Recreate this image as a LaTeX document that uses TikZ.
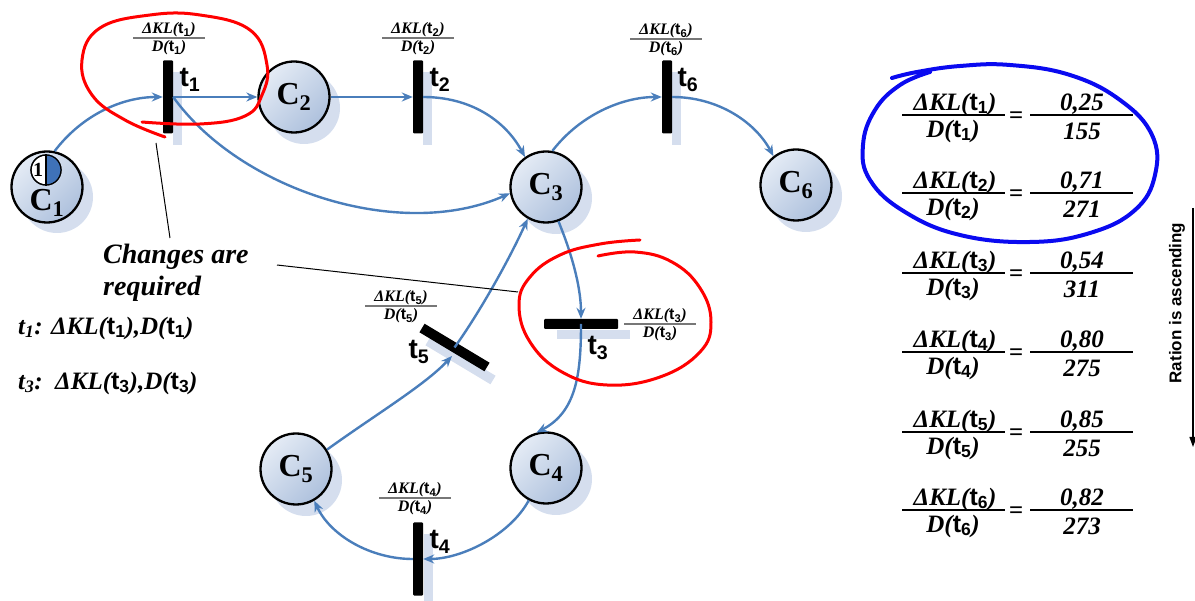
\documentclass[tikz,border=0pt]{standalone}
\usepackage{fontspec}
\setmainfont{Liberation Serif}
\newfontfamily\arial{Liberation Sans}
\usetikzlibrary{arrows.meta}
\definecolor{arrblue}{HTML}{4A7EBB}
\definecolor{shad}{HTML}{D5DEEE}
\definecolor{fillA}{HTML}{E4EBF5}
\definecolor{fillB}{HTML}{AEC1DD}
\definecolor{tokblue}{HTML}{3F72B8}
\definecolor{redpen}{HTML}{FF0000}
\definecolor{bluepen}{HTML}{0A0AF0}
\definecolor{fracgray}{HTML}{777777}
\newcommand\tS[1]{{\arial\bfseries\upshape t\textsubscript{#1}}}
\newcommand\Cl[1]{\fontsize{32}{32}\selectfont\bfseries C\textsubscript{#1}}
\tikzset{
  place/.style={circle, draw=black, line width=2.3pt, minimum size=71pt, inner sep=0pt,
    top color=fillA, bottom color=fillB, shading angle=45},
  placeshadow/.style={circle, fill=shad, minimum size=72pt, inner sep=0pt},
  bar/.style={rectangle, fill=black, minimum width=10pt, minimum height=73pt, inner sep=0pt, rounded corners=1pt},
  barshadow/.style={rectangle, fill=shad, minimum width=9pt, minimum height=73pt, inner sep=0pt},
  arc/.style={draw=arrblue, line width=2.4pt, -{Stealth[length=11pt,width=9pt]}},
  pen/.style={draw=redpen, line width=3pt, line cap=round, line join=round},
  tlab/.style={font=\arial\bfseries\fontsize{28}{28}\selectfont, inner sep=0pt},
  smalltxt/.style={font=\bfseries\itshape\fontsize{16}{16}\selectfont, inner sep=0pt},
  bigtxt/.style={font=\bfseries\itshape\fontsize{25}{25}\selectfont, inner sep=0pt},
  note/.style={draw=black, line width=1pt}
}
\begin{document}
\begin{tikzpicture}[x=1pt, y=-1pt]
\useasboundingbox (0,0) rectangle (1195,601);
% shadows of places
\node[placeshadow] (sC1) at (57,197) {};
\node[placeshadow] (sC2) at (304,108) {};
\node[placeshadow] (sC3) at (556,198) {};
\node[placeshadow] (sC6) at (806,196) {};
\node[placeshadow] (sC5) at (306,480) {};
\node[placeshadow] (sC4) at (556,479) {};
% shadows of transitions
\node[barshadow] (st1) at (177,109) {};
\node[barshadow] (st2) at (427,109) {};
\node[barshadow] (st6) at (676,109) {};
\node[barshadow] (st4) at (428,571) {};
\node[barshadow, minimum width=73pt, minimum height=9pt] (st3) at (593,335) {};
\draw[shad, line width=10pt] (428,341) -- (493,380);
% places
\node[place] (C1) at (47,187) {};
\node[place] (C2) at (294,97) {\Cl{2}};
\node[place] (C3) at (546,187) {\Cl{3}};
\node[place] (C6) at (796,185) {\Cl{6}};
\node[place] (C5) at (296,469) {\Cl{5}};
\node[place] (C4) at (546,468) {\Cl{4}};
\node[inner sep=0pt] (C1l) at (47,203) {\Cl{1}};
% token
\node[circle, draw=black, line width=1.2pt, minimum size=30pt, inner sep=0pt, fill=white] (tok) at (46,170) {};
\fill[tokblue] (tok.north) arc[start angle=90, end angle=-90, radius=15pt] -- cycle;
\draw[line width=1.2pt] (tok.north) -- (tok.south);
\draw[line width=1.2pt] (tok) circle[radius=15pt];
\node[inner sep=0pt, font=\bfseries\fontsize{20}{20}\selectfont] (tokn) at (38,170) {1};
% transitions
\node[bar] (t1) at (168,97) {};
\node[bar] (t2) at (418,97) {};
\node[bar] (t6) at (667,97) {};
\node[bar] (t4) at (418,559) {};
\node[bar, minimum width=74pt, minimum height=10pt] (t3) at (581,324) {};
\draw[line width=10pt] (422,328) -- (487,367);
\coordinate (t5) at (454.5,347.5);
\coordinate (t5in) at (452,356);
% transition labels
\node[tlab] (lt1) at (190,80) {t\textsubscript{1}};
\node[tlab] (lt2) at (440,80) {t\textsubscript{2}};
\node[tlab] (lt6) at (688,80) {t\textsubscript{6}};
\node[tlab] (lt4) at (440,542) {t\textsubscript{4}};
\node[tlab] (lt3) at (598,348) {t\textsubscript{3}};
\node[tlab] (lt5) at (419,352) {t\textsubscript{5}};
% small fractions
\foreach \i/\x/\y in {1/169/38, 2/418/38, 6/666/39, 4/415/498, 3/660/324, 5/401/306}{
  \draw[fracgray, line width=1.2pt] (\x-36,\y) -- (\x+36,\y);
  \node[smalltxt] (fn\i) at (\x,\y-8) {ΔKL(\tS{\i})};
  \node[smalltxt] (fd\i) at (\x,\y+10) {D(\tS{\i})};
}
% arcs
\draw[arc] (C1.78) .. controls (82,115) and (122,97) .. (t1.west);
\draw[arc] (t1.east) -- (C2.west);
\draw[arc] (t1.east) .. controls (240,190) and (400,242) .. (C3.190);
\draw[arc] (C2.east) -- (t2.west);
\draw[arc] (t2.east) .. controls (470,97) and (505,120) .. (C3.125);
\draw[arc] (C3.80) .. controls (580,115) and (622,97) .. (t6.west);
\draw[arc] (t6.east) .. controls (718,97) and (755,122) .. (C6.128);
\draw[arc] (C3.-70) .. controls (575,262) and (581,292) .. (t3.north);
\draw[arc] (t3.center) .. controls (581,375) and (576,412) .. (C4.105);
\draw[arc] (C4.-118) .. controls (510,535) and (462,559) .. (t4.east);
\draw[arc] (t4.west) .. controls (370,559) and (330,535) .. (C5.-60);
\draw[arc] (C5.32) .. controls (375,415) and (425,385) .. (t5in);
\draw[arc] (t5) .. controls (480,312) and (510,258) .. (C3.-120);
% annotation text
\node[anchor=north west, align=left, inner sep=0pt, font=\bfseries\itshape\fontsize{28}{32}\selectfont] (chg) at (103,244) {Changes are\\required};
\node[anchor=west, inner sep=0pt, bigtxt] (req1) at (18,328) {t\textsubscript{1}: ΔKL(\tS{1}),D(\tS{1})};
\node[anchor=west, inner sep=0pt, bigtxt] (req3) at (18,383) {t\textsubscript{3}:\ \ ΔKL(\tS{3}),D(\tS{3})};
\coordinate (n1a) at (156,143);
\coordinate (n1b) at (170,238);
\coordinate (n2a) at (277,265);
\coordinate (n2b) at (518,292);
\draw[note] (n1a) -- (n1b);
\draw[note] (n2a) -- (n2b);
% right equations
\foreach \i/\Y/\a/\b in {1/115/{0,25}/155, 2/193/{0,71}/271, 3/273/{0,54}/311, 4/352/{0,80}/275, 5/432/{0,85}/255, 6/510/{0,82}/273}{
  \draw[line width=1.3pt] (902,\Y) -- (1005,\Y);
  \draw[line width=1.3pt] (1030,\Y) -- (1133,\Y);
  \node[bigtxt] (en\i) at (955,\Y-11) {ΔKL(\tS{\i})};
  \node[bigtxt] (ed\i) at (953,\Y+16) {D(\tS{\i})};
  \node[bigtxt] (eq\i) at (1016,\Y+3) {=};
  \node[bigtxt] (vn\i) at (1082,\Y-11) {\a};
  \node[bigtxt] (vd\i) at (1082,\Y+16) {\b};
}
% ratio arrow
\coordinate (ra) at (1193,208);
\coordinate (rb) at (1193,447);
\draw[line width=1.2pt, -{Triangle[length=10pt,width=7pt]}] (ra) -- (rb);
\node[rotate=90, inner sep=0pt, font=\arial\bfseries\fontsize{17}{17}\selectfont] (rtxt) at (1177,303) {Ration is ascending};
% hand-drawn marks
\draw[pen] plot[smooth, tension=0.7] coordinates {(142,122) (200,124) (245,116) (262,95) (267,65) (250,30) (200,15) (150,15) (100,28) (82,60) (92,95) (125,120) (165,137)};
\draw[pen] plot[smooth, tension=0.7] coordinates {(640,240) (600,244) (560,255) (530,277) (519,305) (530,342) (562,372) (607,385) (660,377) (700,352) (711,322) (700,288) (672,262) (635,252) (598,256)};
\draw[draw=bluepen, line width=4pt, line cap=round, line join=round] plot[smooth, tension=0.7] coordinates {(892,78) (917,72) (960,66) (1010,65) (1070,75) (1120,100) (1152,135) (1155,175) (1135,210) (1090,233) (1030,242) (960,235) (905,212) (870,180) (863,145) (875,110) (900,85) (930,72)};
\end{tikzpicture}
\end{document}
